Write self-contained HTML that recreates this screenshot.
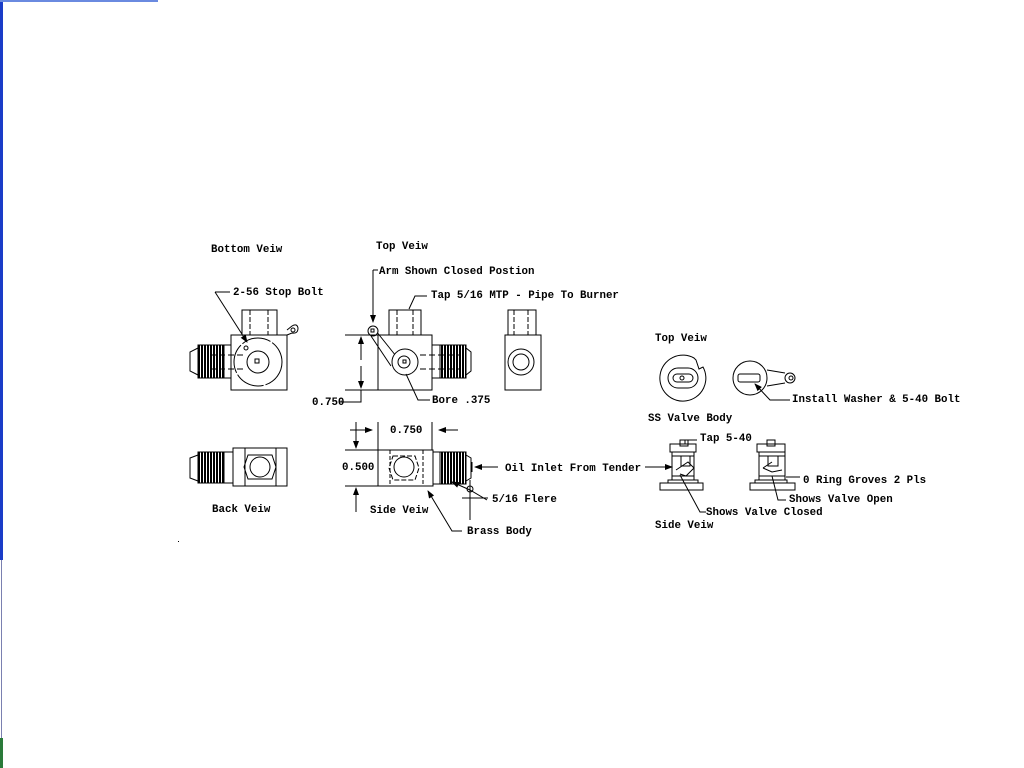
<!DOCTYPE html>
<html><head><meta charset="utf-8"><style>
html,body{margin:0;padding:0;background:#fff;width:1024px;height:768px;overflow:hidden}
svg{display:block}
text{font-family:"Liberation Mono",monospace;font-size:10.8px;fill:#000;font-weight:bold}
</style></head><body>
<svg width="1024" height="768" viewBox="0 0 1024 768" xmlns="http://www.w3.org/2000/svg">
<defs>
<pattern id="thr" width="3" height="4" patternUnits="userSpaceOnUse"><rect width="2" height="4" fill="#000"/></pattern>
<marker id="ar" markerWidth="8" markerHeight="6" refX="7" refY="3" orient="auto" markerUnits="userSpaceOnUse"><path d="M0,0 L8,3 L0,6z" fill="#000"/></marker>
</defs>
<rect x="0" y="0" width="3" height="560" fill="#1a3cc8"/>
<rect x="0" y="0" width="158" height="2" fill="#6a8ae0"/>
<rect x="1" y="560" width="1" height="178" fill="#7a80b0"/>
<rect x="0" y="738" width="3" height="30" fill="#2a7a3a"/>
<g fill="none" stroke="#000" stroke-width="1">
<!-- Bottom view -->
<rect x="231" y="335" width="56" height="55"/>
<rect x="242" y="310" width="35" height="25"/>
<path d="M250 310V335M268 310V335" stroke-dasharray="5,2"/>
<rect x="198" y="345" width="26" height="33" fill="url(#thr)" stroke="#000"/>
<path d="M224 345H231M224 378H231M198 348L190 352V371L198 375"/>
<path d="M210 355H245M210 369H245" stroke-dasharray="6,3"/>
<circle cx="258" cy="362" r="24" stroke-dasharray="30,2"/>
<circle cx="258" cy="362" r="11"/>
<rect x="255" y="359" width="4" height="4"/>
<circle cx="246" cy="348" r="2"/>
<path d="M287 330L292 326Q297 323 298 328Q298 334 292 333L287 335"/><circle cx="293" cy="330" r="2"/>
<path d="M215 292L247 342" marker-end="url(#ar)"/><path d="M215 292H230"/>
<!-- Top view -->
<rect x="378" y="335" width="54" height="55"/>
<rect x="389" y="310" width="32" height="25"/>
<path d="M397 310V335M413 310V335" stroke-dasharray="5,2"/>
<rect x="440" y="345" width="26" height="33" fill="url(#thr)"/>
<path d="M432 345H440M432 378H440M466 348L471 352V371L466 375"/>
<path d="M420 355H460M420 369H460" stroke-dasharray="6,3"/>
<path d="M372 326L396 356M371 336L391 366"/>
<circle cx="373" cy="331" r="5" fill="#fff"/><rect x="371" y="329" width="3" height="3"/>
<circle cx="405" cy="362" r="13" fill="#fff"/><circle cx="404" cy="362" r="6"/><rect x="403" y="360" width="3" height="3"/>
<path d="M373 270H378M373 270V322" marker-end="url(#ar)"/>
<path d="M427 296H415L409 309"/>
<path d="M430 400H418L406 374"/>
<path d="M345 335H378M345 390H378"/>
<path d="M361 360V337" marker-end="url(#ar)"/><path d="M361 366V388" marker-end="url(#ar)"/>
<path d="M361 390V402H340"/>
<!-- right end view -->
<rect x="505" y="335" width="36" height="55"/>
<rect x="508" y="310" width="28" height="25"/>
<path d="M514 310V335M528 310V335" stroke-dasharray="5,2"/>
<circle cx="521" cy="362" r="13"/><circle cx="521" cy="362" r="8"/>
<!-- Back view -->
<rect x="233" y="448" width="54" height="38"/>
<path d="M245 448V486M276 448V486"/>
<rect x="198" y="452" width="26" height="31" fill="url(#thr)"/>
<path d="M224 452H233M224 483H233M198 455L190 458V478L198 481"/>
<path d="M248 455H272L276 467L272 479H248L244 467Z"/>
<circle cx="260" cy="467" r="10"/>
<!-- Side view -->
<rect x="378" y="450" width="55" height="36"/>
<path d="M390 450V486M423 450V486" stroke-dasharray="4,2"/>
<path d="M393 456H415L419 468L415 480H393L389 468Z" stroke-dasharray="5,2"/>
<circle cx="404" cy="467" r="10"/>
<rect x="440" y="452" width="26" height="32" fill="url(#thr)"/>
<path d="M433 452H440M433 484H440M466 455L471 458V478L466 481"/>
<path d="M378 422V450M432 422V450"/>
<path d="M350 430H372" marker-end="url(#ar)"/><path d="M458 430H439" marker-end="url(#ar)"/>
<path d="M345 450H378M345 486H378"/>
<path d="M356 422V448" marker-end="url(#ar)"/><path d="M356 512V488" marker-end="url(#ar)"/>
<path d="M498 467H475" marker-end="url(#ar)"/><path d="M472 462V472"/>
<path d="M462 531H452L428 491" marker-end="url(#ar)"/>
<path d="M488 498H462M470 480V520"/><circle cx="470" cy="489" r="3"/>
<path d="M487 500L470 490L452 482" marker-end="url(#ar)"/>
<!-- right top views -->
<path d="M694 358A23 23 0 1 0 703 367L699 369L696 360Z"/>
<rect x="668" y="368" width="30" height="20" rx="10"/>
<rect x="673" y="374" width="20" height="8" rx="4"/>
<circle cx="682" cy="378" r="2"/>
<path d="M767 370L785 373M767 386L785 383"/>
<circle cx="750" cy="378" r="17" fill="#fff"/>
<rect x="738" y="374" width="22" height="8" rx="2"/>
<circle cx="790" cy="378" r="5" fill="#fff"/><circle cx="791" cy="378" r="2"/>
<path d="M790 400H770L755 384" marker-end="url(#ar)"/>
<!-- side views small -->
<rect x="670" y="444" width="26" height="8"/><rect x="680" y="440" width="8" height="6"/>
<rect x="672" y="452" width="22" height="28"/><path d="M672 456H694M672 476H694"/>
<rect x="668" y="480" width="30" height="3"/>
<rect x="660" y="483" width="43" height="7"/>
<path d="M681 456V466H690V456M676 470L688 462L694 468L686 476L680 474"/>
<path d="M697 440H685V444"/>
<path d="M645 467H672" marker-end="url(#ar)"/>
<path d="M680 475L700 512H706"/>
<rect x="757" y="444" width="28" height="8"/><rect x="767" y="440" width="8" height="6"/>
<rect x="759" y="452" width="26" height="28"/><path d="M759 456H785M759 476H785"/>
<rect x="755" y="480" width="32" height="3"/>
<rect x="750" y="483" width="45" height="7"/>
<path d="M768 456V466H778V456M763 468L772 462M763 468L772 472L782 470"/>
<path d="M786 477H800M772 476L778 500H786"/>
</g>
<text x="211" y="252">Bottom Veiw</text>
<text x="233" y="295">2-56 Stop Bolt</text>
<text x="376" y="249">Top Veiw</text>
<text x="379" y="274">Arm Shown Closed Postion</text>
<text x="431" y="298">Tap 5/16 MTP - Pipe To Burner</text>
<text x="312" y="405">0.750</text>
<text x="432" y="403">Bore .375</text>
<text x="390" y="433">0.750</text>
<text x="342" y="470">0.500</text>
<text x="505" y="471">Oil Inlet From Tender</text>
<text x="492" y="502">5/16 Flere</text>
<text x="370" y="513">Side Veiw</text>
<text x="467" y="534">Brass Body</text>
<text x="212" y="512">Back Veiw</text>
<text x="655" y="341">Top Veiw</text>
<text x="792" y="402">Install Washer &amp; 5-40 Bolt</text>
<text x="648" y="421">SS Valve Body</text>
<text x="700" y="441">Tap 5-40</text>
<text x="803" y="483">0 Ring Groves 2 Pls</text>
<text x="789" y="502">Shows Valve Open</text>
<text x="706" y="515">Shows Valve Closed</text>
<text x="655" y="528">Side Veiw</text>
<rect x="178" y="541" width="1" height="1" fill="#000"/>
</svg>
</body></html>
